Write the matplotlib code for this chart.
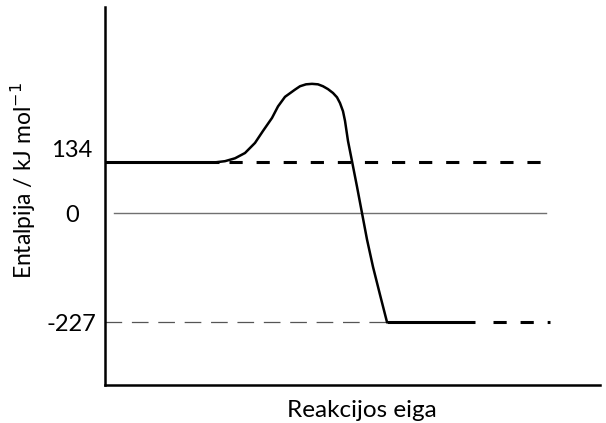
import matplotlib.pyplot as plt

plt.rcParams['font.family'] = ['Lato', 'DejaVu Sans']
plt.rcParams['lines.scale_dashes'] = False

# enthalpy levels (kJ/mol), tick labels as printed
tick_vals = [134, 0, -227]
tick_labels = ['134', '0', '-227']
reactant_level = 106
product_level = -227

# reaction path (x = reaction progress, y = enthalpy)
curve_x = [112, 120, 130, 140, 150, 158, 167, 173, 180, 190, 195, 201, 207, 213, 218, 223, 228, 232, 235, 238, 240, 243, 247, 252, 257, 262, 268, 275, 282]
curve_y = [106, 108, 114, 125, 146, 171, 198, 222, 242, 257, 264, 268, 269, 268, 264, 258, 250, 241, 229, 212, 192, 150, 108, 55, 0, -55, -112, -170, -227]

fig = plt.figure(figsize=(6.06, 4.23), dpi=100)
ax = fig.add_axes([105/606, (423-385)/423, (600-105)/606, (385-7)/423])

# reactant level
ax.plot([0, 114], [reactant_level]*2, color='black', lw=2.2, solid_capstyle='butt')
ax.plot([124, 445], [reactant_level]*2, color='black', lw=2.2, dashes=(9.5, 10))
# zero line
ax.plot([9, 441], [0, 0], color='#707070', lw=1.0)
# product reference line
ax.plot([0, 282], [product_level]*2, color='#555555', lw=0.9, dashes=(12, 7))
ax.plot([282, 370], [product_level]*2, color='black', lw=2.2, solid_capstyle='butt')
ax.plot([388, 445], [product_level]*2, color='black', lw=2.2, dashes=(9.5, 10))
# path
ax.plot(curve_x, curve_y, color='black', lw=1.8, solid_joinstyle='round')

ax.set_xlim(0, 495)
ax.set_ylim(-358, 429)
ax.set_xticks([])
ax.set_yticks(tick_vals)
ax.set_yticklabels(tick_labels, fontsize=17)
ax.tick_params(axis='y', length=0, pad=24)
for t in ax.get_yticklabels():
    t.set_horizontalalignment('center')
for s in ['top', 'right']:
    ax.spines[s].set_visible(False)
for s in ['left', 'bottom']:
    ax.spines[s].set_linewidth(1.8)

ax.set_xlabel('Reakcijos eiga', fontsize=17.5)
ax.xaxis.set_label_coords(0.519, -0.04)
ax.set_ylabel('Entalpija / kJ mol$^{-1}$', fontsize=16.5)
ax.yaxis.set_label_coords(-0.135, 0.54)

fig.savefig('out.png', dpi=100)
